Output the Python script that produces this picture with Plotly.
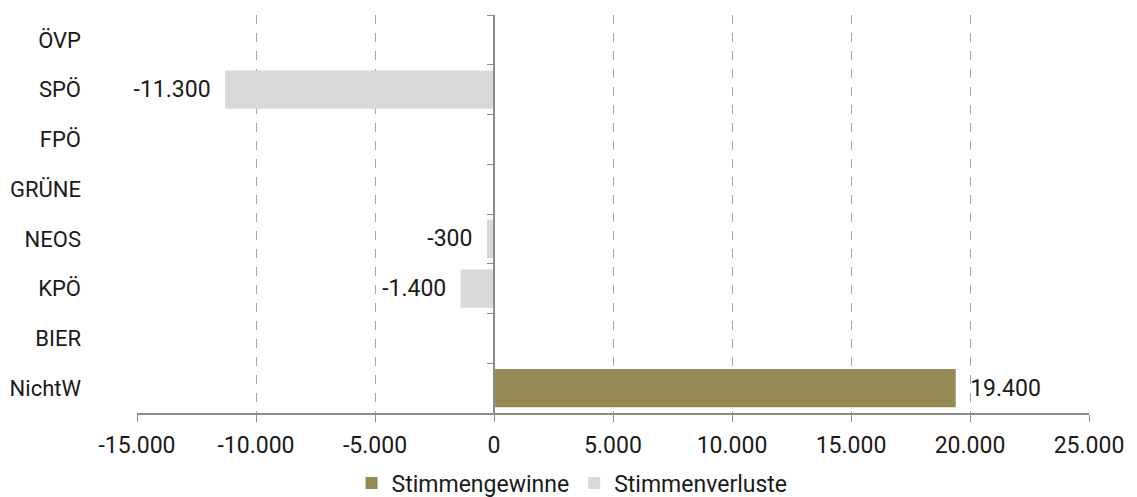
import plotly.graph_objects as go

categories = ["ÖVP", "SPÖ", "FPÖ", "GRÜNE", "NEOS", "KPÖ", "BIER", "NichtW"]
gewinne = [None, None, None, None, None, None, None, 19400]
verluste = [None, -11300, None, None, -300, -1400, None, None]
x_ticks = [-15000, -10000, -5000, 0, 5000, 10000, 15000, 20000, 25000]
x_ticktext = ["-15.000", "-10.000", "-5.000", "0", "5.000", "10.000", "15.000", "20.000", "25.000"]

FONT = "Roboto"
TXT = "#1a1a1a"
GRID = "#a6a6a6"
AXIS = "#8c8c8c"
NB = "\u00a0\u00a0"

fig = go.Figure()
fig.add_trace(go.Bar(
    name="Stimmengewinne", y=categories, x=gewinne, orientation="h",
    marker=dict(color="#948A54", line=dict(width=0)),
    texttemplate=NB + "%{x:,}", textposition="outside",
    textfont=dict(family=FONT, size=23, color=TXT), cliponaxis=False,
))
fig.add_trace(go.Bar(
    name="Stimmenverluste", y=categories, x=verluste, orientation="h",
    marker=dict(color="#D9D9D9", line=dict(width=0)),
    texttemplate="%{x:,}" + NB, textposition="outside",
    textfont=dict(family=FONT, size=23, color=TXT), cliponaxis=False,
))
# invisible helper trace for the category axis drawn at x = 0
fig.add_trace(go.Scatter(
    y=categories, x=[0] * len(categories), yaxis="y2", mode="markers",
    marker=dict(opacity=0), showlegend=False, hoverinfo="skip",
))

x_min, x_max = -15000, 25000
fig.update_layout(
    width=1137, height=497,
    margin=dict(l=137, r=48, t=15, b=84, autoexpand=False),
    paper_bgcolor="white", plot_bgcolor="white",
    barmode="relative", bargap=0.23,
    separators=",.",
    font=dict(family=FONT, size=22, color=TXT),
    xaxis=dict(
        range=[x_min, x_max], tickvals=x_ticks, ticktext=x_ticktext,
        showgrid=True, gridcolor=GRID, griddash="dash", gridwidth=1,
        zeroline=False, showline=True, linecolor=AXIS, linewidth=1.5,
        ticks="outside", ticklen=7, tickcolor=AXIS, tickwidth=1,
        ticklabelstandoff=4,
        tickfont=dict(family=FONT, size=23, color=TXT),
    ),
    yaxis=dict(
        type="category", categoryorder="array", categoryarray=categories,
        autorange="reversed", showgrid=False, zeroline=False, showline=False,
        ticks="", ticklabelstandoff=55,
        tickfont=dict(family=FONT, size=22, color=TXT),
    ),
    yaxis2=dict(
        type="category", categoryorder="array", categoryarray=categories,
        overlaying="y", matches="y", anchor="free",
        position=(0 - x_min) / (x_max - x_min), side="left",
        showticklabels=False, showgrid=False, zeroline=False,
        showline=True, linecolor=AXIS, linewidth=1.5,
        ticks="outside", tickson="boundaries", ticklen=6, tickcolor=AXIS,
    ),
    legend=dict(
        orientation="h", x=0.457, xanchor="center", y=-0.176, yanchor="middle",
        font=dict(family=FONT, size=23, color=TXT), traceorder="normal",
        itemwidth=30, itemsizing="constant",
    ),
    showlegend=True,
)

fig.write_html(
    "out.html",
    config={"displayModeBar": False},
    post_script="document.body.style.margin='0';document.body.style.overflow='hidden';",
)
